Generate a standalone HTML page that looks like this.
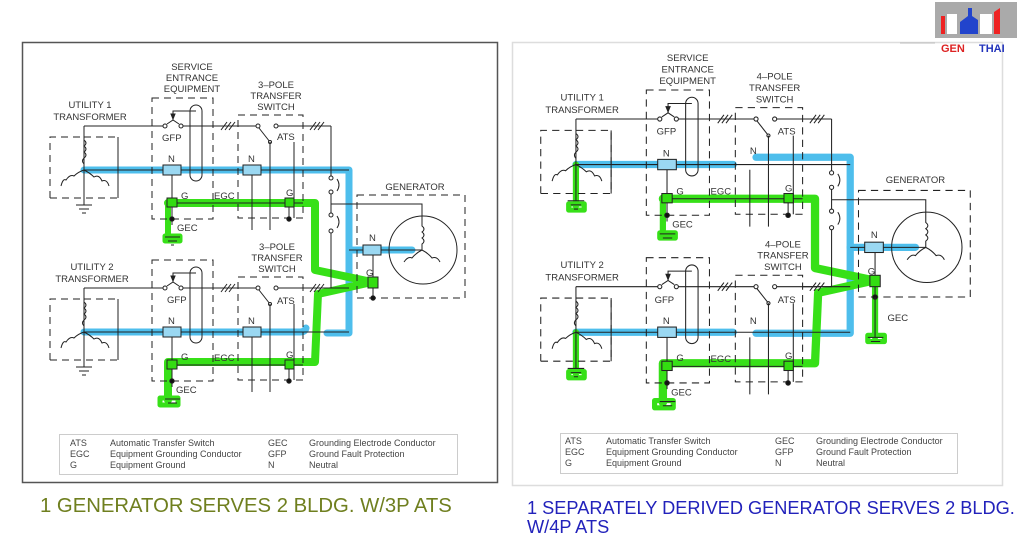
<!DOCTYPE html>
<html><head><meta charset="utf-8"><style>
body{margin:0;background:#fff;width:1024px;height:544px;overflow:hidden}
svg{display:block}
text{font-family:"Liberation Sans",sans-serif}
</style></head><body>
<svg width="1024" height="544" viewBox="0 0 1024 544" xmlns="http://www.w3.org/2000/svg">
<defs>
<g id="unit" fill="none" stroke="#222" stroke-width="1">
  <path d="M50,198 V137 H84 M84,137 H118 V198 H50" stroke-dasharray="7,5"/>
  <path d="M118,137 V198" />
  <path d="M84,126 V205"/>
  <path d="M84,140 q4,3 0,6 q4,3 0,6 q4,3 0,6 q-3,3 0,6"/>
  <path d="M84,170 q-6,2 -10,6 q-4,-2 -8,4 q-3,-2 -5,6 M84,170 q6,3 10,7 q5,-3 8,4 q5,-2 7,5"/>
  <path d="M76,205 H92 M79,209 H89 M82,213 H86"/>
  <path d="M84,126 H163 M183,126 H256 M278,126 H331"/>
  <circle cx="165" cy="126" r="2" fill="#fff"/><circle cx="181" cy="126" r="2" fill="#fff"/>
  <circle cx="258" cy="126" r="2" fill="#fff"/><circle cx="276" cy="126" r="2" fill="#fff"/>
  <path d="M259,128 L270,142"/><circle cx="270" cy="142" r="1.5" fill="#fff"/>
  <path d="M221,130 L227,122 M225,130 L231,122 M229,130 L235,122 M310,130 L316,122 M314,130 L320,122 M318,130 L324,122"/>
  <path d="M173,120 V111 H196" /><path d="M167,124 L173,120 L179,124"/><path d="M171,114 L175,114 L173,119Z" fill="#222"/>
  <rect x="190" y="105" width="12" height="76" rx="6"/>
  <rect x="152" y="98" width="61" height="121" stroke-dasharray="7,5"/>
  <rect x="238" y="115" width="65" height="103" stroke-dasharray="7,5"/>
  <path d="M84,170 H349"/>
  <path d="M172,175 V225 M252,175 V230 M270,142 V230 M294,142 V218"/>
  <path d="M167,203 H303 M289,207 V219"/>
  <circle cx="172" cy="219" r="2.2" fill="#111"/><circle cx="289" cy="219" r="2.2" fill="#111"/>
</g>
<g id="gen" fill="none" stroke="#222" stroke-width="1">
  <path d="M331,126 V176 M331,194 V213 M331,233 V288"/>
  <circle cx="331" cy="178" r="2" fill="#fff"/><circle cx="331" cy="192" r="2" fill="#fff"/>
  <circle cx="331" cy="215" r="2" fill="#fff"/><circle cx="331" cy="231" r="2" fill="#fff"/>
  <path d="M337,179 q4,6 0,12 M337,216 q4,6 0,12"/>
  <rect x="357" y="195" width="108" height="103" stroke-dasharray="7,5"/>
  <circle cx="423" cy="250" r="34"/>
  <path d="M331,204 H422 V226 q4,3 0,6 q4,3 0,6 q4,3 0,6 V250 M422,250 q-6,3 -10,8 q-4,-2 -8,4 M422,250 q6,3 10,8 q5,-2 8,4"/>
  <path d="M349,250 H422 M373,255 V298 M303,288 H349"/>
  <circle cx="373" cy="298" r="2.2" fill="#111"/>
</g>
</defs>

<rect x="22.5" y="42.5" width="475" height="440" fill="none" stroke="#555" stroke-width="1.5"/>
<g>
  <g fill="none" stroke-linecap="round" stroke-linejoin="round" opacity="0.9">
    <path d="M84,170 H349 V333 H327" stroke="#3bb8ea" stroke-width="7"/>
    <path d="M84,332 H300 Q305,332 306,328" stroke="#3bb8ea" stroke-width="7"/>
    <path d="M349,250 H412" stroke="#3bb8ea" stroke-width="7"/>
    <path d="M168,203 H315 V270 L372,282 L318,294 L315,362 H168 V400" stroke="#22dd00" stroke-width="8"/>
    <path d="M168,203 V233" stroke="#22dd00" stroke-width="6"/>
    <path d="M165,236 H180 V241 H165Z M160,398 H178 V405 H160Z" stroke="#22dd00" stroke-width="5"/>
  </g>
  <use href="#unit"/>
  <use href="#unit" transform="translate(0,162)"/>
  <use href="#gen"/>
  <g fill="#9ad8f2" stroke="#222" stroke-width="1">
    <rect x="163" y="165" width="18" height="10"/><rect x="243" y="165" width="18" height="10"/>
    <rect x="163" y="327" width="18" height="10"/><rect x="243" y="327" width="18" height="10"/>
    <rect x="363" y="245" width="18" height="10"/>
  </g>
  <g fill="#33dd11" stroke="#222" stroke-width="1">
    <rect x="167" y="198" width="10" height="9"/><rect x="285" y="198" width="9" height="9"/>
    <rect x="167" y="360" width="10" height="9"/><rect x="285" y="360" width="9" height="9"/>
    <rect x="368" y="277" width="10" height="11"/>
  </g>
  <path d="M165,237 H180 M168,241 H177 M171,245 H174 M165,399 H180 M168,403 H177" stroke="#222" fill="none"/>
  <g font-size="9.5" fill="#333" text-anchor="middle">
    <text x="192" y="70">SERVICE</text><text x="192" y="81">ENTRANCE</text><text x="192" y="92">EQUIPMENT</text>
    <text x="276" y="88">3–POLE</text><text x="276" y="99">TRANSFER</text><text x="276" y="110">SWITCH</text>
    <text x="90" y="108">UTILITY 1</text><text x="90" y="120">TRANSFORMER</text>
    <text x="92" y="270">UTILITY 2</text><text x="92" y="282">TRANSFORMER</text>
    <text x="277" y="250">3–POLE</text><text x="277" y="261">TRANSFER</text><text x="277" y="272">SWITCH</text>
    <text x="415" y="190">GENERATOR</text>
  </g>
  <g font-size="9.5" fill="#333">
    <text x="162" y="141">GFP</text><text x="167" y="303">GFP</text>
    <text x="277" y="140">ATS</text><text x="277" y="304">ATS</text>
    <text x="168" y="162">N</text><text x="248" y="162">N</text><text x="168" y="324">N</text><text x="248" y="324">N</text><text x="369" y="241">N</text>
    <text x="181" y="199">G</text><text x="286" y="196">G</text><text x="181" y="360">G</text><text x="286" y="358">G</text><text x="366" y="276">G</text>
    <text x="214" y="199">EGC</text><text x="214" y="361">EGC</text>
    <text x="177" y="231">GEC</text><text x="176" y="393">GEC</text>
  </g>
  <rect x="59.5" y="434.5" width="398" height="40" fill="#fff" stroke="#ccc"/>
  <g font-size="9" fill="#444">
    <text x="70" y="446">ATS</text><text x="70" y="457">EGC</text><text x="70" y="468">G</text>
    <text x="110" y="446">Automatic Transfer Switch</text><text x="110" y="457">Equipment Grounding Conductor</text><text x="110" y="468">Equipment Ground</text>
    <text x="268" y="446">GEC</text><text x="268" y="457">GFP</text><text x="268" y="468">N</text>
    <text x="309" y="446">Grounding Electrode Conductor</text><text x="309" y="457">Ground Fault Protection</text><text x="309" y="468">Neutral</text>
  </g>
</g>
<text x="40" y="512" font-size="20.3" fill="#6f7f1f">1 GENERATOR SERVES 2 BLDG. W/3P ATS</text>

<rect x="512.5" y="42.5" width="490" height="443" fill="none" stroke="#ddd" stroke-width="1.5"/>
<g transform="matrix(1.035,0,0,1.035,489,-11.4)">
  <g fill="none" stroke-linecap="round" stroke-linejoin="round" opacity="0.9">
    <path d="M84,170 H236" stroke="#3bb8ea" stroke-width="7"/>
    <path d="M258,163 H349 V333 H258" stroke="#3bb8ea" stroke-width="7"/>
    <path d="M84,332 H236" stroke="#3bb8ea" stroke-width="7"/>
    <path d="M349,250 H412" stroke="#3bb8ea" stroke-width="7"/>
    <path d="M168,203 H315 V270 L372,282 L318,294 L315,362 H168 V400" stroke="#22dd00" stroke-width="8"/>
    <path d="M168,203 V233 M84,170 V210 M84,332 V372 M373,288 V337" stroke="#22dd00" stroke-width="6"/>
    <path d="M165,236 H180 V241 H165Z M160,398 H178 V405 H160Z M77,208 H92 V214 H77Z M77,370 H92 V376 H77Z M366,335 H382 V341 H366Z" stroke="#22dd00" stroke-width="5"/>
  </g>
  <use href="#unit"/>
  <use href="#unit" transform="translate(0,162)"/>
  <use href="#gen"/>
  <path d="M373,298 V337 M366,337 H381 M369,341 H378" stroke="#222" fill="none"/>
  <g fill="#9ad8f2" stroke="#222" stroke-width="1">
    <rect x="163" y="165" width="18" height="10"/>
    <rect x="163" y="327" width="18" height="10"/>
    <rect x="363" y="245" width="18" height="10"/>
  </g>
  <g fill="#33dd11" stroke="#222" stroke-width="1">
    <rect x="167" y="198" width="10" height="9"/><rect x="285" y="198" width="9" height="9"/>
    <rect x="167" y="360" width="10" height="9"/><rect x="285" y="360" width="9" height="9"/>
    <rect x="368" y="277" width="10" height="11"/>
  </g>
  <path d="M165,237 H180 M168,241 H177 M165,399 H180 M168,403 H177" stroke="#222" fill="none"/>
  <g font-size="9.2" fill="#333" text-anchor="middle">
    <text x="192" y="70">SERVICE</text><text x="192" y="81">ENTRANCE</text><text x="192" y="92">EQUIPMENT</text>
    <text x="276" y="88">4–POLE</text><text x="276" y="99">TRANSFER</text><text x="276" y="110">SWITCH</text>
    <text x="90" y="108">UTILITY 1</text><text x="90" y="120">TRANSFORMER</text>
    <text x="90" y="270">UTILITY 2</text><text x="90" y="282">TRANSFORMER</text>
    <text x="284" y="250">4–POLE</text><text x="284" y="261">TRANSFER</text><text x="284" y="272">SWITCH</text>
    <text x="412" y="188">GENERATOR</text>
  </g>
  <g font-size="9.2" fill="#333">
    <text x="162" y="141">GFP</text><text x="160" y="304">GFP</text>
    <text x="279" y="141">ATS</text><text x="279" y="304">ATS</text>
    <text x="168" y="162">N</text><text x="252" y="160">N</text><text x="168" y="324">N</text><text x="252" y="324">N</text><text x="369" y="241">N</text>
    <text x="181" y="199">G</text><text x="286" y="196">G</text><text x="181" y="360">G</text><text x="286" y="358">G</text><text x="366" y="276">G</text>
    <text x="214" y="199">EGC</text><text x="214" y="361">EGC</text>
    <text x="177" y="231">GEC</text><text x="176" y="393">GEC</text><text x="385" y="321">GEC</text>
  </g>
</g>
<rect x="560.5" y="433.5" width="397" height="40" fill="#fff" stroke="#ccc"/>
<g font-size="9" fill="#444">
  <text x="565" y="444">ATS</text><text x="565" y="455">EGC</text><text x="565" y="466">G</text>
  <text x="606" y="444">Automatic Transfer Switch</text><text x="606" y="455">Equipment Grounding Conductor</text><text x="606" y="466">Equipment Ground</text>
  <text x="775" y="444">GEC</text><text x="775" y="455">GFP</text><text x="775" y="466">N</text>
  <text x="816" y="444">Grounding Electrode Conductor</text><text x="816" y="455">Ground Fault Protection</text><text x="816" y="466">Neutral</text>
</g>
<text x="527" y="514" font-size="18.2" fill="#2222bb">1 SEPARATELY DERIVED GENERATOR SERVES 2 BLDG.</text>
<text x="527" y="533" font-size="18.2" fill="#2222bb">W/4P ATS</text>

<line x1="900" y1="43" x2="935" y2="43" stroke="#bbb" stroke-width="1"/>
<rect x="935" y="2" width="82" height="36" fill="#aaa"/>
<path d="M941,34 V16 H945 V34 Z" fill="#e22"/>
<path d="M947,34 V14 H957 V34Z" fill="#fff"/>
<path d="M960,34 V22 L968,16 V8 H972 V16 L978,20 V34Z" fill="#2244cc"/>
<path d="M980,34 V14 H992 V34Z" fill="#fff"/>
<path d="M994,34 V12 L1000,8 V34Z" fill="#e22"/>
<text x="941" y="52" font-family="Liberation Serif,serif" font-weight="bold" font-size="11" fill="#dd2222">GEN</text>
<text x="979" y="52" font-family="Liberation Serif,serif" font-weight="bold" font-size="11" fill="#2233bb">THAI</text>
</svg>
</body></html>
